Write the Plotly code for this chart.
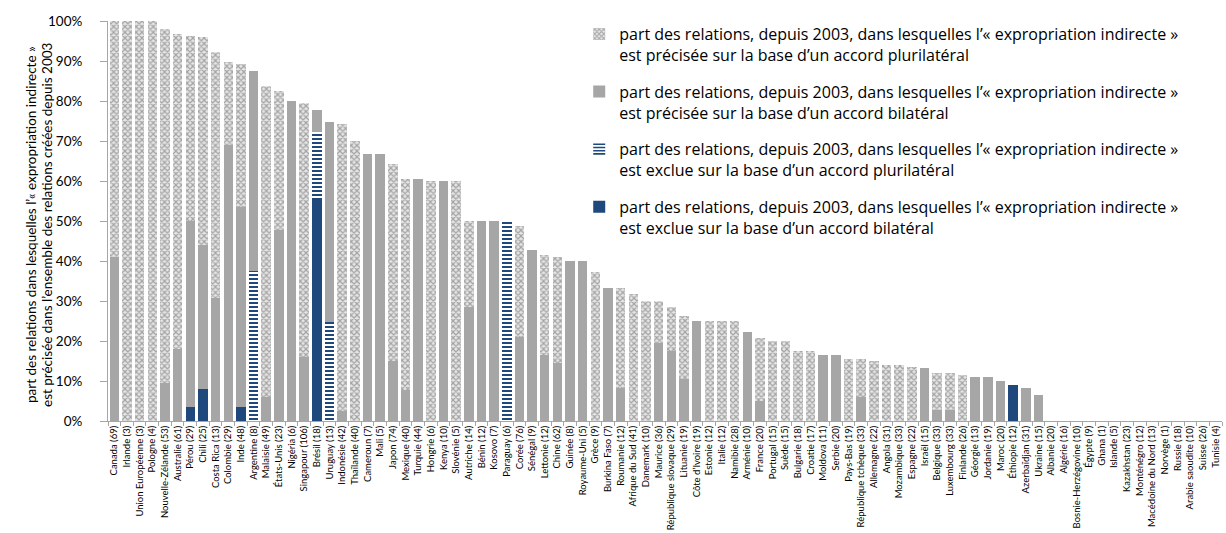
import plotly.graph_objects as go

countries = [
    "Canada (69)", "Irlande (3)", "Union Européenne (3)", "Pologne (4)", "Nouvelle-Zélande (53)",
    "Australie (61)", "Pérou (29)", "Chili (25)", "Costa Rica (13)", "Colombie (29)",
    "Inde (48)", "Argentine (8)", "Malaisie (49)", "États-Unis (23)", "Nigéria (6)",
    "Singapour (106)", "Brésil (18)", "Uruguay (13)", "Indonésie (42)", "Thaïlande (40)",
    "Cameroun (7)", "Mali (5)", "Japon (74)", "Mexique (40)", "Turquie (44)",
    "Hongrie (6)", "Kenya (10)", "Slovénie (5)", "Autriche (14)", "Bénin (12)",
    "Kosovo (7)", "Paraguay (6)", "Corée (76)", "Sénégal (9)", "Lettonie (12)",
    "Chine (62)", "Guinée (8)", "Royaume-Uni (5)", "Grèce (9)", "Burkina Faso (7)",
    "Roumanie (12)", "Afrique du Sud (41)", "Danemark (10)", "Maurice (36)", "République slovaque (29)",
    "Lituanie (19)", "Côte d’Ivoire (19)", "Estonie (12)", "Italie (12)", "Namibie (28)",
    "Arménie (10)", "France (20)", "Portugal (15)", "Suède (15)", "Bulgarie (18)",
    "Croatie (17)", "Moldova (11)", "Serbie (20)", "Pays-Bas (19)", "République tchèque (33)",
    "Allemagne (22)", "Angola (31)", "Mozambique (33)", "Espagne (22)", "Israël (15)",
    "Belgique (33)", "Luxembourg (33)", "Finlande (26)", "Géorgie (13)", "Jordanie (19)",
    "Maroc (20)", "Éthiopie (12)", "Azerbaïdjan (31)", "Ukraine (15)", "Albanie (20)",
    "Algérie (16)", "Bosnie-Herzégovine (10)", "Égypte (9)", "Ghana (1)", "Islande (5)",
    "Kazakhstan (23)", "Monténégro (12)", "Macédoine du Nord (13)", "Norvège (1)", "Russie (18)",
    "Arabie saoudite (10)", "Suisse (26)", "Tunisie (4)",
]

# segment shares in % (stacked bottom to top)
bil_exclue = [
    0, 0, 0, 0, 0, 0, 3.5, 8.0, 0, 0,
    3.5, 0, 0, 0, 0, 0, 55.6, 0, 0, 0,
    0, 0, 0, 0, 0, 0, 0, 0, 0, 0,
    0, 0, 0, 0, 0, 0, 0, 0, 0, 0,
    0, 0, 0, 0, 0, 0, 0, 0, 0, 0,
    0, 0, 0, 0, 0, 0, 0, 0, 0, 0,
    0, 0, 0, 0, 0, 0, 0, 0, 0, 0,
    0, 9.0, 0, 0, 0, 0, 0, 0, 0, 0,
    0, 0, 0, 0, 0, 0, 0, 0,
]
pluri_exclue = [
    0, 0, 0, 0, 0, 0, 0, 0, 0, 0,
    0, 37.5, 0, 0, 0, 0, 16.6, 24.8, 0, 0,
    0, 0, 0, 0, 0, 0, 0, 0, 0, 0,
    0, 50.0, 0, 0, 0, 0, 0, 0, 0, 0,
    0, 0, 0, 0, 0, 0, 0, 0, 0, 0,
    0, 0, 0, 0, 0, 0, 0, 0, 0, 0,
    0, 0, 0, 0, 0, 0, 0, 0, 0, 0,
    0, 0, 0, 0, 0, 0, 0, 0, 0, 0,
    0, 0, 0, 0, 0, 0, 0, 0,
]
bil_precisee = [
    41.0, 0, 0, 0, 9.4, 18.0, 46.5, 36.0, 30.8, 69.0,
    50.0, 50.0, 6.1, 47.8, 80.0, 16.0, 5.6, 50.0, 2.4, 0,
    66.7, 66.7, 14.9, 7.8, 60.4, 0, 60.0, 0, 28.5, 50.0,
    50.0, 0, 21.0, 42.8, 16.5, 14.5, 40.0, 40.0, 0, 33.3,
    8.3, 0, 0, 19.4, 17.5, 10.5, 25.0, 0, 0, 0,
    22.2, 5.0, 0, 0, 0, 0, 16.5, 16.5, 0, 6.0,
    0, 0, 0, 0, 13.2, 2.8, 2.8, 0, 11.0, 11.0,
    10.0, 0, 8.3, 6.6, 0, 0, 0, 0, 0, 0,
    0, 0, 0, 0, 0, 0, 0, 0,
]
pluri_precisee = [
    59.0, 100.0, 100.0, 100.0, 88.7, 78.7, 46.3, 52.0, 61.5, 20.7,
    35.7, 0, 77.6, 34.8, 0, 63.5, 0, 0, 71.8, 70.0,
    0, 0, 49.4, 52.6, 0, 60.0, 0, 60.0, 21.5, 0,
    0, 0, 27.7, 0, 25.1, 26.4, 0, 0, 37.3, 0,
    25.0, 31.7, 30.0, 10.6, 11.0, 15.8, 0, 25.0, 25.0, 25.0,
    0, 15.8, 20.0, 20.0, 17.6, 17.6, 0, 0, 15.6, 9.4,
    14.9, 14.1, 14.1, 13.5, 0, 9.2, 9.2, 11.4, 0, 0,
    0, 0, 0, 0, 0, 0, 0, 0, 0, 0,
    0, 0, 0, 0, 0, 0, 0, 0,
]

legend_labels = [
    "part des relations, depuis 2003, dans lesquelles l’« expropriation indirecte »<br>est exclue sur la base d’un accord bilatéral",
    "part des relations, depuis 2003, dans lesquelles l’« expropriation indirecte »<br>est exclue sur la base d’un accord plurilatéral",
    "part des relations, depuis 2003, dans lesquelles l’« expropriation indirecte »<br>est précisée sur la base d’un accord bilatéral",
    "part des relations, depuis 2003, dans lesquelles l’« expropriation indirecte »<br>est précisée sur la base d’un accord plurilatéral",
]

y_title_lines = [
    "part des relations dans lesquelles l’« expropriation indirecte »",
    "est précisée dans l’ensemble des relations créées depuis 2003",
]

FONT = "Lato, 'Open Sans', sans-serif"
LEG_FONT = "'Open Sans', Lato, sans-serif"
DARK = "#1f497d"
GRAY = "#a6a6a6"

series = [bil_exclue, pluri_exclue, bil_precisee, pluri_precisee]
markers = [
    dict(color=DARK),
    dict(color="white", pattern=dict(shape="-", fgcolor=DARK, bgcolor="white", size=4, solidity=0.5, fillmode="replace")),
    dict(color=GRAY),
    dict(color="white", pattern=dict(shape="x", fgcolor="#a3a3a3", bgcolor="#e6e6e6", size=4, solidity=0.5, fillmode="replace")),
]
ranks = [4, 3, 2, 1]

fig = go.Figure()
for i, (vals, mk, lab) in enumerate(zip(series, markers, legend_labels)):
    fig.add_trace(go.Bar(
        x=countries, y=[v / 100 for v in vals], name=lab, marker=mk,
        marker_line_width=0, legendgroup=f"g{i}", legendrank=ranks[i],
    ))

W_PLOT = 1226 - 108 - 4
def px_to_paper(px):
    return (px - 108) / W_PLOT

annotations = []
for xpx, line in zip([31, 47], y_title_lines):
    annotations.append(dict(
        text=line, xref="paper", yref="paper", x=px_to_paper(xpx), y=0.49,
        xanchor="center", yanchor="middle", textangle=-90, showarrow=False,
        font=dict(size=13.5, family=FONT, color="#000000"),
    ))

fig.update_layout(
    barmode="stack",
    bargap=0.25,
    width=1226, height=533,
    margin=dict(l=108, r=4, t=21, b=112),
    paper_bgcolor="white", plot_bgcolor="white",
    font=dict(family=FONT, color="#000000"),
    showlegend=True,
    legend=dict(
        x=0.423, y=1.01, xanchor="left", yanchor="top",
        traceorder="grouped", valign="top",
        font=dict(size=16, family=LEG_FONT, color="#000000"),
        tracegroupgap=13, bgcolor="rgba(0,0,0,0)",
    ),
    annotations=annotations,
    xaxis=dict(
        type="category", tickangle=-90, tickfont=dict(size=9.5, family=FONT),
        showline=True, linecolor="#a6a6a6", linewidth=1,
        ticks="outside", ticklen=4, tickcolor="#a6a6a6", tickson="boundaries",
        showgrid=False,
    ),
    yaxis=dict(
        range=[0, 1], tickformat=".0%", dtick=0.1,
        tickfont=dict(size=13.5, family=FONT),
        showline=True, linecolor="#a6a6a6", linewidth=1,
        ticks="outside", ticklen=7, tickcolor="#a6a6a6",
        ticklabelstandoff=15,
        showgrid=False, zeroline=False,
    ),
)

fig.write_html("out.html")
